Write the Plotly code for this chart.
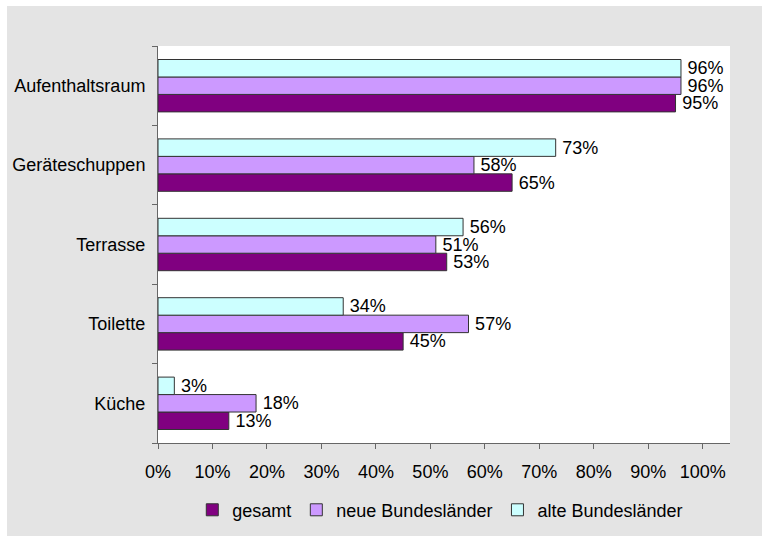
import plotly.graph_objects as go

categories = ["Aufenthaltsraum", "Geräteschuppen", "Terrasse", "Toilette", "Küche"]
gesamt = [0.95, 0.65, 0.53, 0.45, 0.13]
neue = [0.96, 0.58, 0.51, 0.57, 0.18]
alte = [0.96, 0.73, 0.56, 0.34, 0.03]
series_names = ["gesamt", "neue Bundesländer", "alte Bundesländer"]
colors = ["#800080", "#cc99ff", "#ccffff"]
x_ticks = [i / 10 for i in range(11)]

FONT = "Liberation Sans, Arial, Helvetica, sans-serif"

W, H = 762, 536
L, R, T, B = 158, 32, 46, 93
PW, PH = W - L - R, H - T - B

fig = go.Figure()
for name, vals, col in zip(series_names, [gesamt, neue, alte], colors):
    fig.add_trace(go.Bar(
        y=categories, x=vals, name=name, orientation="h",
        marker=dict(color=col, line=dict(color="#333333", width=1)),
        text=[f"\u2009{round(v*100)}%" for v in vals],
        textposition="outside", constraintext="none", cliponaxis=False,
        textfont=dict(family=FONT, size=18, color="#000000"),
    ))

fig.update_layout(
    width=W, height=H,
    margin=dict(l=L, r=R, t=T, b=B, autoexpand=False),
    paper_bgcolor="#e4e4e4",
    plot_bgcolor="white",
    barmode="group", bargap=0.34, bargroupgap=0,
    font=dict(family=FONT, size=18, color="#000000"),
    showlegend=True,
    legend=dict(orientation="h", x=0.4935, xanchor="center", y=-0.169, yanchor="middle",
                font=dict(size=18), bgcolor="rgba(0,0,0,0)", traceorder="normal"),
    shapes=[
        dict(type="rect", xref="paper", yref="paper", x0=-0.5, x1=(7 - L) / PW,
             y0=-0.5, y1=1.5, fillcolor="white", line=dict(width=0), layer="below"),
        dict(type="rect", xref="paper", yref="paper", x0=-0.5, x1=1.5,
             y0=(H - B - 6) / PH, y1=1.5, fillcolor="white", line=dict(width=0), layer="below"),
    ],
)
fig.update_xaxes(
    range=[0, 1.05], tickvals=x_ticks, tickformat=".0%",
    showgrid=False, zeroline=False, showline=True, linecolor="#666666", linewidth=1,
    ticks="outside", ticklen=5, tickcolor="#666666", ticklabelstandoff=7,
    automargin=False,
)
fig.update_yaxes(
    categoryorder="array", categoryarray=categories[::-1],
    showgrid=False, showline=True, linecolor="#666666", linewidth=1,
    ticks="outside", ticklen=5, tickcolor="#666666", tickson="boundaries",
    ticklabelstandoff=8, automargin=False,
)

fig.write_html("out.html", config={"displayModeBar": False},
               post_script="document.body.style.margin='0';document.body.style.overflow='hidden';")
